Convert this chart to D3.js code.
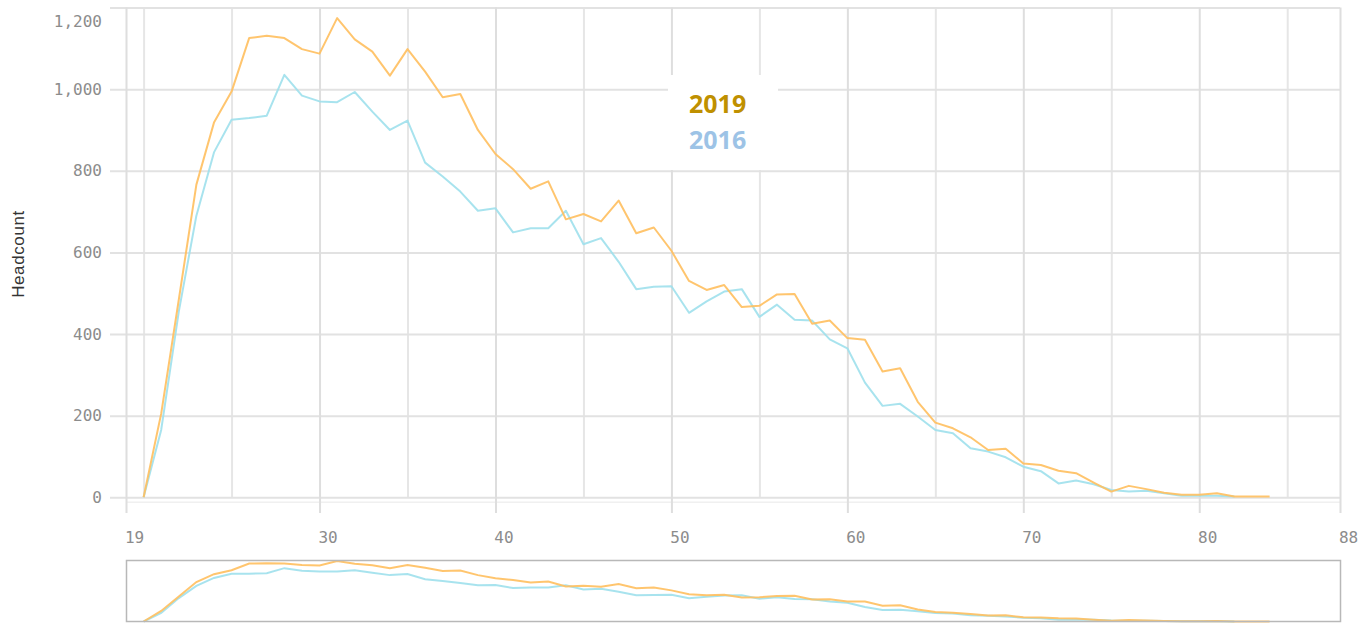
<!DOCTYPE html>
<html>
<head>
<meta charset="utf-8">
<script src="https://cdn.jsdelivr.net/npm/d3@7"></script>
<style>
  body { margin: 0; background: #fff; }
  svg { display: block; }
  .tick text { font-family: 'DejaVu Sans Mono', monospace; font-size: 16px; fill: #8c8c8c; }
</style>
</head>
<body>
<svg id="chart" width="1370" height="623"></svg>
<script>
// Headcount by age, first value is age 20
const firstAge = 20;
const headcount2019 = [0, 205, 484, 766, 918, 994, 1125, 1131, 1125, 1098,
  1087, 1174, 1122, 1092, 1033, 1098, 1043, 980, 988, 900,
  841, 804, 756, 774, 681, 694, 676, 727, 647, 661,
  604, 530, 508, 520, 466, 469, 497, 498, 425, 433,
  390, 386, 308, 316, 234, 183, 169, 147, 116, 119,
  83, 79, 65, 59, 36, 14, 28, 20, 11, 6,
  6, 10, 2, 2, 2];
const headcount2016 = [0, 165, 455, 690, 845, 925, 929, 935, 1035, 984,
  970, 968, 993, 945, 900, 923, 820, 786, 749, 702,
  708, 649, 659, 659, 702, 620, 635, 577, 510, 516,
  517, 452, 480, 504, 510, 442, 472, 435, 433, 387,
  365, 281, 224, 229, 198, 165, 157, 120, 112, 98,
  75, 64, 34, 41, 32, 18, 14, 16, 10, 4,
  4, 4, 2];
const seriesNames = ['2019', '2016'];
const xTickLabels = [19, 30, 40, 50, 60, 70, 80, 88];
const xGridTicks = [20, 25, 35, 45, 55, 65, 75, 85];
const yTickLabels = [0, 200, 400, 600, 800, 1000, 1200];

const colors = { '2019': '#ffbf5e', '2016': '#9fe0ec' };
const legendColors = { '2019': '#bf9000', '2016': '#9dc3e6' };

const toPoints = vals => vals.map((v, i) => ({ age: firstAge + i, value: v }));
const series = [
  { name: '2016', data: toPoints(headcount2016) },
  { name: '2019', data: toPoints(headcount2019) }
];

const svg = d3.select('#chart');
const plotLeft = 126, plotRight = 1340, plotTop = 7.5, plotBottom = 497.3;

const x = d3.scaleLinear().domain([19, 88]).range([plotLeft, plotRight]);
const y = d3.scaleLinear().domain([0, 1200]).range([plotBottom, plotTop]);

// Vertical minor grid
svg.append('g')
  .attr('transform', `translate(0,${plotTop})`)
  .call(d3.axisBottom(x).tickValues(xGridTicks).tickSize(plotBottom - plotTop).tickFormat(''))
  .call(g => g.select('.domain').remove())
  .call(g => g.selectAll('line').attr('stroke', '#e6e6e6').attr('stroke-width', 2));

// Horizontal grid + y labels
const yAxis = svg.append('g')
  .attr('transform', `translate(${plotRight},0)`)
  .call(d3.axisLeft(y).tickValues(yTickLabels).tickSize(plotRight - 110).tickPadding(8).tickFormat(d3.format(',')))
  .call(g => g.select('.domain').remove())
  .call(g => g.selectAll('line').attr('stroke', '#e2e2e2').attr('stroke-width', 2));
yAxis.selectAll('.tick').filter(d => d === 1200).select('text').attr('dy', '1.2em');

// Faint x domain line
svg.append('line')
  .attr('x1', plotLeft).attr('x2', plotRight)
  .attr('y1', plotBottom + 5).attr('y2', plotBottom + 5)
  .attr('stroke', '#f0f0f0').attr('stroke-width', 1.5);

// Vertical major grid + x labels
svg.append('g')
  .attr('transform', `translate(0,${plotTop})`)
  .call(d3.axisBottom(x).tickValues(xTickLabels).tickSize(513 - plotTop).tickPadding(19))
  .call(g => g.select('.domain').remove())
  .call(g => g.selectAll('line').attr('stroke', '#dedede').attr('stroke-width', 2))
  .call(g => g.selectAll('text').attr('dx', 8));

// Y title
svg.append('text')
  .attr('transform', 'translate(24,254) rotate(-90)')
  .attr('text-anchor', 'middle')
  .attr('font-family', 'Liberation Sans, Arial, sans-serif')
  .attr('font-size', 17)
  .attr('letter-spacing', 0.6)
  .attr('fill', '#333')
  .text('Headcount');

// Lines
const line = d3.line().x(d => x(d.age)).y(d => y(d.value));
svg.append('g').selectAll('path')
  .data(series)
  .join('path')
  .attr('fill', 'none')
  .attr('stroke', d => colors[d.name])
  .attr('stroke-width', 2)
  .attr('stroke-opacity', 0.9)
  .attr('stroke-linejoin', 'round')
  .attr('d', d => line(d.data));

// Legend
const legend = svg.append('g');
legend.append('rect')
  .attr('x', 668).attr('y', 75).attr('width', 110).attr('height', 95)
  .attr('fill', '#fff');
legend.selectAll('text')
  .data(seriesNames)
  .join('text')
  .attr('x', 689)
  .attr('y', (d, i) => 113 + i * 36)
  .attr('font-family', 'Open Sans, sans-serif')
  .attr('font-weight', 'bold')
  .attr('font-size', 25)
  .attr('fill', d => legendColors[d])
  .text(d => d);

// Overview (brush) panel
const miniTop = 561, miniBottom = 621.5;
const y2 = d3.scaleLinear()
  .domain([0, d3.max(series, s => d3.max(s.data, d => d.value))])
  .range([miniBottom, miniTop]);
const line2 = d3.line().x(d => x(d.age)).y(d => y2(d.value));

svg.append('g').selectAll('path')
  .data(series)
  .join('path')
  .attr('fill', 'none')
  .attr('stroke', d => colors[d.name])
  .attr('stroke-width', 2)
  .attr('stroke-opacity', 0.9)
  .attr('d', d => line2(d.data));

svg.append('rect')
  .attr('x', plotLeft + 0.5).attr('y', 560.5)
  .attr('width', plotRight - plotLeft).attr('height', miniBottom - 560.5)
  .attr('fill', 'none')
  .attr('stroke', '#b8b8b8')
  .attr('stroke-width', 1.5);
</script>
</body>
</html>
